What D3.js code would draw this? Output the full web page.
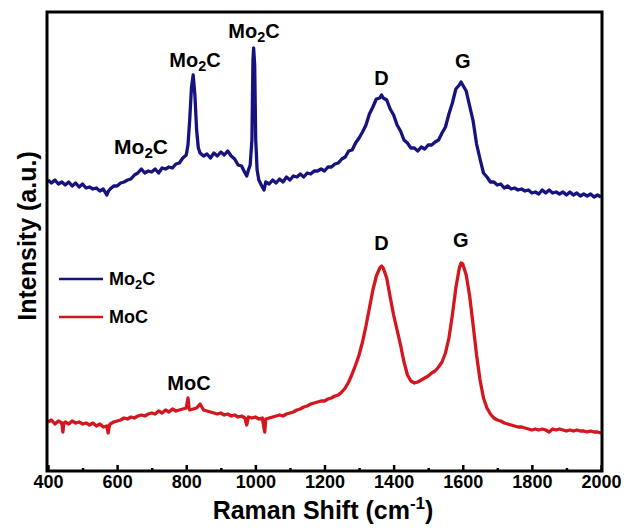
<!DOCTYPE html>
<html><head><meta charset="utf-8">
<script src="https://cdn.jsdelivr.net/npm/d3@7"></script>
<style>body{margin:0;background:#fff}svg{display:block}text{font-family:"Liberation Sans",Arial,sans-serif;font-weight:bold}</style>
</head><body>
<script>
const mo2cShift = [400,410,420,430,440,450,460,470,480,490,500,510,520,530,540,550,560,570,575,580,590,600,610,620,630,640,650,660,670,680,690,700,710,720,730,740,750,760,770,780,790,800,805,810,815,820,825,830,835,840,850,860,870,880,890,900,910,920,930,940,950,960,970,975,980,985,990,993,995,998,1001,1005,1010,1020,1025,1030,1040,1050,1060,1070,1080,1090,1100,1110,1120,1130,1140,1150,1160,1170,1180,1190,1200,1210,1220,1230,1240,1250,1260,1270,1280,1290,1300,1310,1320,1330,1340,1350,1360,1365,1370,1380,1390,1400,1410,1420,1430,1440,1450,1460,1470,1480,1490,1500,1510,1520,1530,1540,1550,1560,1570,1580,1590,1595,1600,1610,1620,1630,1640,1650,1660,1670,1680,1690,1700,1710,1720,1730,1740,1750,1760,1770,1780,1790,1800,1810,1820,1830,1840,1850,1860,1870,1880,1890,1900,1910,1920,1930,1940,1950,1960,1970,1980,1990,2000];
const mo2cIntensity = [320,317,320,316,318,315,318,314,317,313,316,312,313,311,312,309,311,305,309,311,314,314,317,318,320,321,325,327,331,327,329,328,331,327,332,331,333,332,336,337,342,345,355,380,412,425,405,370,352,347,344,346,342,347,344,348,345,349,344,341,335,334,327,324,330,335,360,440,452,435,360,330,320,313,310,318,316,320,317,321,318,323,320,324,323,326,323,327,326,329,329,331,329,333,333,336,337,341,343,349,350,357,362,368,375,386,393,401,402,405,402,400,391,385,375,369,360,357,352,352,349,353,351,355,355,358,360,367,373,386,397,411,415,418,415,409,394,379,356,341,327,323,318,318,315,316,312,314,311,312,310,311,309,310,307,308,306,310,307,310,307,308,306,308,305,308,305,307,304,306,304,306,303,305,303];

const mocShift = [400,410,420,430,440,443,446,450,460,470,480,490,500,510,520,530,540,550,560,570,574,578,580,590,600,610,620,630,640,650,660,670,680,690,700,710,720,730,740,750,760,770,780,790,800,805,808,810,820,830,840,845,850,860,870,880,890,900,910,920,930,940,950,960,970,975,980,990,1000,1010,1020,1027,1030,1040,1050,1060,1070,1080,1090,1100,1110,1120,1130,1140,1150,1160,1170,1180,1190,1200,1210,1220,1230,1240,1250,1260,1270,1280,1290,1300,1310,1320,1330,1340,1350,1360,1365,1370,1380,1390,1400,1410,1420,1430,1440,1450,1460,1470,1480,1490,1500,1510,1520,1530,1540,1550,1560,1570,1580,1590,1595,1600,1610,1620,1630,1640,1650,1660,1670,1680,1690,1700,1710,1720,1730,1740,1750,1760,1770,1780,1790,1800,1810,1820,1830,1840,1850,1860,1870,1880,1890,1900,1910,1920,1930,1940,1950,1960,1970,1980,1990,2000];
const mocIntensity = [78,80,76,79,77,68,77,78,76,79,77,78,76,77,75,77,74,76,73,74,67,75,76,78,79,80,82,81,83,82,84,85,84,86,87,86,89,87,90,88,91,89,90,91,92,102,92,90,91,92,96,93,90,89,88,87,86,87,85,86,84,85,83,84,82,75,83,82,83,81,82,68,81,82,83,84,85,84,86,87,88,90,91,93,94,96,97,98,99,99,101,102,104,105,108,112,118,126,135,145,158,174,192,210,224,232,234,232,222,203,185,170,155,138,125,119,117,118,120,122,124,127,129,133,138,147,162,185,212,232,237,236,225,204,175,145,120,102,92,86,82,80,79,77,76,75,74,73,73,72,71,70,71,70,71,70,68,71,70,71,70,69,70,69,70,69,69,68,69,68,68,67];

const xTicks = [400,600,800,1000,1200,1400,1600,1800,2000];
const xMinorTicks = [500,700,900,1100,1300,1500,1700,1900];
const seriesNames = ["Mo\u2082C","MoC"];
const seriesColors = ["#16137e","#d4161e"];

const W=624,H=529;
const svg=d3.select("body").append("svg").attr("width",W).attr("height",H);
const x=d3.scaleLinear().domain([400,2000]).range([48,601]);
const y=d3.scaleLinear().domain([29,488]).range([471,12]);

svg.append("clipPath").attr("id","clip").append("rect").attr("x",48).attr("y",12).attr("width",553).attr("height",459);

const line=d3.line().x(d=>x(d[0])).y(d=>y(d[1]));
const g=svg.append("g").attr("clip-path","url(#clip)");
g.append("path").datum(d3.zip(mocShift,mocIntensity)).attr("d",line).attr("fill","none").attr("stroke",seriesColors[1]).attr("stroke-width",3.3).attr("stroke-linejoin","round");
g.append("path").datum(d3.zip(mo2cShift,mo2cIntensity)).attr("d",line).attr("fill","none").attr("stroke",seriesColors[0]).attr("stroke-width",3.3).attr("stroke-linejoin","round");

// frame
svg.append("rect").attr("x",47).attr("y",12).attr("width",555).attr("height",459).attr("fill","none").attr("stroke","#000").attr("stroke-width",3);

// x axis
const ax=svg.append("g").attr("transform","translate(0,471)");
ax.call(d3.axisBottom(x).tickValues(xTicks).tickSize(-6).tickPadding(14).tickFormat(d3.format("d")));
ax.select(".domain").remove();
ax.selectAll(".tick line").attr("stroke","#000").attr("stroke-width",2.5);
ax.selectAll(".tick text").attr("font-size",18).attr("font-family","Liberation Sans, Arial, sans-serif").attr("font-weight","bold").attr("fill","#000").attr("dy","0.15em");
const axm=svg.append("g").attr("transform","translate(0,471)");
axm.call(d3.axisBottom(x).tickValues(xMinorTicks).tickSize(-3).tickFormat(""));
axm.select(".domain").remove();
axm.selectAll(".tick line").attr("stroke","#000").attr("stroke-width",2.5);

// axis titles
const xt=svg.append("text").attr("x",323).attr("y",519).attr("text-anchor","middle").attr("font-size",25);
xt.append("tspan").text("Raman Shift (cm");
xt.append("tspan").attr("font-size",17).attr("dy",-10).text("-1");
xt.append("tspan").attr("dy",10).text(")");

svg.append("text").attr("transform","translate(36,236) rotate(-90)").attr("text-anchor","middle").attr("font-size",25).text("Intensity (a.u.)");

function mo2c(xx,yy,fs){
  const t=svg.append("text").attr("x",xx).attr("y",yy).attr("text-anchor","middle").attr("font-size",fs);
  t.append("tspan").text("Mo");
  t.append("tspan").attr("font-size",fs*0.72).attr("dy",4).text("2");
  t.append("tspan").attr("dy",-4).text("C");
  return t;
}
mo2c(141,154,21);
mo2c(195,67,20);
mo2c(254,38,20);
function lbl(t,xx,yy,fs){svg.append("text").attr("x",xx).attr("y",yy).attr("text-anchor","middle").attr("font-size",fs).text(t);}
lbl("D",x(1365),85,20);
lbl("G",x(1600),68,20);
lbl("D",x(1365),250,20);
lbl("G",x(1594),247,20);
lbl("MoC",189,390,20);

// legend
const leg=[{y:279},{y:317}];
leg.forEach((l,i)=>{
  svg.append("line").attr("x1",59).attr("x2",103).attr("y1",l.y).attr("y2",l.y).attr("stroke",seriesColors[i]).attr("stroke-width",2.5);
  const t=svg.append("text").attr("x",109).attr("y",l.y+6).attr("font-size",18);
  if(i===0){t.append("tspan").text("Mo");t.append("tspan").attr("font-size",13).attr("dy",4).text("2");t.append("tspan").attr("dy",-4).text("C");}
  else t.text(seriesNames[1]);
});
</script>
</body></html>
